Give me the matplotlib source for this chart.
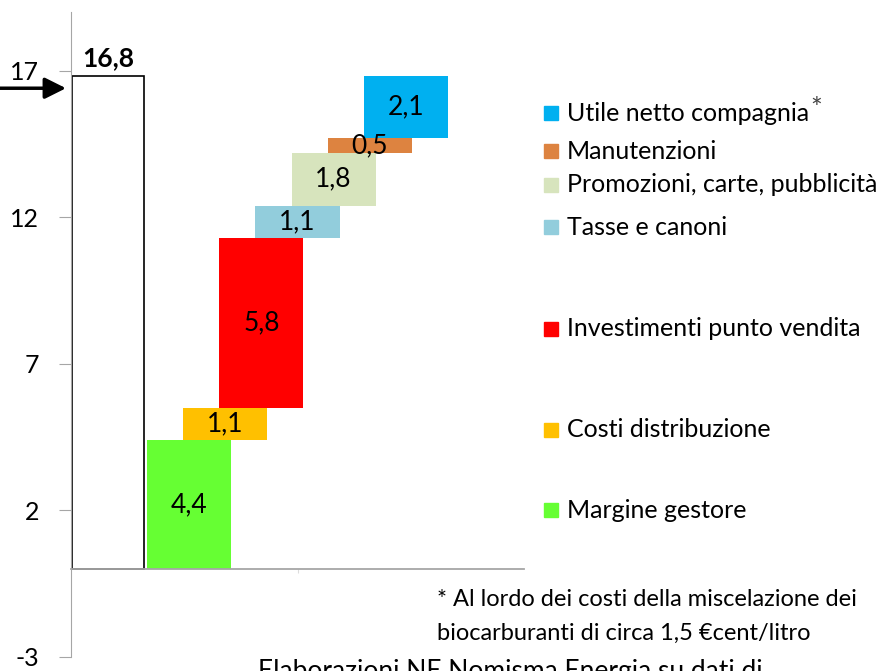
"""
Waterfall of the 16,8 cent/litro margin, split by item.
"""
import matplotlib.pyplot as plt
import numpy as np

plt.rcParams["font.family"] = ["Lato", "DejaVu Sans"]

total = 16.8
total_label = "16,8"
items = ["Margine gestore", "Costi distribuzione", "Investimenti punto vendita",
         "Tasse e canoni", "Promozioni, carte, pubblicità", "Manutenzioni",
         "Utile netto compagnia"]
values = [4.4, 1.1, 5.8, 1.1, 1.8, 0.5, 2.1]
labels = ["4,4", "1,1", "5,8", "1,1", "1,8", "0,5", "2,1"]
colors = ["#66FF33", "#FFC000", "#FF0000", "#92CDDC", "#D7E4BD", "#DD8340", "#00B0F0"]
yticks = [-3, 2, 7, 12, 17]

fig = plt.figure(figsize=(8.91, 6.71), dpi=100)
ax = fig.add_axes([71/891, 14/671, 453/891, 645/671])
ax.set_xlim(0, 2)
ax.set_ylim(-3, 19)

grey = "#a6a6a6"
# white total bar
ax.bar(0.006, total, width=0.316, align="edge", color="white", edgecolor="black", lw=1.2)
ax.text(0.006 + 0.158, total + 0.2, total_label, ha="center", va="bottom",
        fontsize=19, fontweight="bold")

# stacked steps
bottoms = np.concatenate([[0], np.cumsum(values)[:-1]])
x0, step, w = 0.336, 0.1595, 0.371
for i, (v, b, c, lab) in enumerate(zip(values, bottoms, colors, labels)):
    ax.bar(x0 + i*step, v, width=w, bottom=b, align="edge", color=c)
    ax.text(x0 + i*step + w/2, b + v/2, lab, ha="center", va="center", fontsize=19)

# legend drawn by hand next to the steps
for i, (name, v, b, c) in enumerate(zip(items, values, bottoms, colors)):
    yl = b + v/2 - 0.2
    ax.plot([2.12], [yl], marker="s", ms=10.5, color=c, clip_on=False, ls="none")
    t = ax.text(2.19, yl, name, ha="left", va="center", fontsize=18, clip_on=False)
    if name.startswith("Utile"):
        ax.annotate("*", xy=(1, 1), xycoords=t, xytext=(1, 3), textcoords="offset points",
                    ha="left", va="top", fontsize=20, color="#444444")

# axes styling
for s in ["top", "right"]:
    ax.spines[s].set_visible(False)
ax.spines["left"].set_color(grey)
ax.spines["bottom"].set_position(("data", 0))
ax.spines["bottom"].set_color(grey)
ax.spines["bottom"].set_linewidth(1.3)
ax.set_yticks(yticks)
ax.set_yticklabels([str(t) for t in yticks], fontsize=18)
ax.tick_params(axis="y", length=9, color=grey, pad=14)
ax.set_xticks([1])
ax.set_xticklabels([""])
ax.tick_params(axis="x", length=3, color="#dddddd")

# arrow pointing at the total
ax.annotate("", xy=(-0.01, 16.4), xytext=(-72, 0), textcoords="offset pixels",
            xycoords="data", annotation_clip=False,
            arrowprops=dict(arrowstyle="-|>", color="black", lw=2.5, mutation_scale=32))

# footnotes
fig.text(437/891, 1 - 600/671, "* Al lordo dei costi della miscelazione dei",
         fontsize=17, va="center", ha="left")
fig.text(437/891, 1 - 633/671, "biocarburanti di circa 1,5 €cent/litro",
         fontsize=17, va="center", ha="left")
fig.text(258/891, 1 - 659/671, "Elaborazioni NE Nomisma Energia su dati di",
         fontsize=19, va="top", ha="left")

fig.savefig("out.png", dpi=100)
